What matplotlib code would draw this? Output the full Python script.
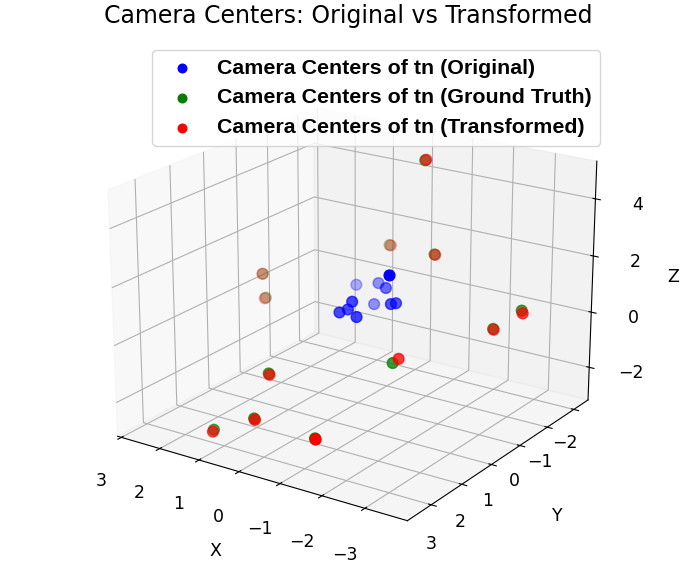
import numpy as np
import matplotlib
matplotlib.use("Agg")
from matplotlib import pyplot as plt


# camera centers (x, y, z)
orig_x = [-0.97, 0.31, -0.19, -0.50, -0.14, -0.07, 0.04, -0.31, -0.20, -0.78, -0.84]
orig_y = [0.25, -0.36, -0.44, -0.27, 0.37, 0.42, 0.55, 0.45, -0.28, -0.06, -0.15]
orig_z = [1.85, 0.77, 0.95, 0.97, 0.72, 0.45, 0.38, 0.28, 0.29, 0.61, 0.61]

gt_x = [-0.66, 0.86, -0.825, 3.06, 2.88, -2.78, -3.47, -1.68, 0.68, 0.40, 1.50, -1.61]
gt_y = [-1.36, -2.24, -1.49, -0.74, -0.61, -0.76, -0.72, 1.10, 2.00, 2.80, 2.72, 3.45]
gt_z = [4.96, 1.04, 1.62, 0.07, -0.69, 0.02, 0.92, -0.47, -1.15, -2.13, -3.01, -1.61]

tr_x = [-0.68, 0.84, -0.835, 3.08, 2.90, -2.80, -3.50, -1.75, 0.66, 0.38, 1.50, -1.63]
tr_y = [-1.37, -2.26, -1.50, -0.75, -0.60, -0.75, -0.71, 1.00, 2.00, 2.80, 2.75, 3.46]
tr_z = [4.98, 1.02, 1.60, 0.05, -0.72, 0.00, 0.84, -0.36, -1.19, -2.17, -3.06, -1.63]

y_ticks = [-2, -1, 0, 1, 2, 3]
y_tick_labels = ["\u22122", "\u22121", "0", "1", "2", "3"]


fig = plt.figure(figsize=(6.98, 5.81), dpi=100)
ax = fig.add_subplot(projection="3d")
ax.set_position([0.188, 0.097, 0.63, 0.757])

ax.scatter(orig_x, orig_y, orig_z, c="blue", s=60, label="Camera Centers of tn (Original)")
ax.scatter(gt_x, gt_y, gt_z, c="green", s=60, label="Camera Centers of tn (Ground Truth)")
ax.scatter(tr_x, tr_y, tr_z, c="red", s=60, label="Camera Centers of tn (Transformed)")

xlo, xhi = -3.97, 3.1
zlo, zhi = -3.2, 5.3
ax.set_xlim(xlo, xhi)
ax.set_ylim(-2.55, 3.75)
ax.set_zlim(zlo, zhi)
ax.set_box_aspect((4, 4, 3.0), zoom=1.22)
ax.view_init(elev=20.5, azim=124)

ax.tick_params(labelsize=12.5)
ax.tick_params(axis="x", pad=8)
ax.tick_params(axis="z", pad=7)

# y tick labels sit straight below the axis in the original
ax.set_yticks(y_ticks)
ax.tick_params(axis="y", labelleft=False, labelright=False)
for yv, lab in zip(y_ticks, y_tick_labels):
    ax.text(xlo + 0.07 + 0.04 * (1 - yv), yv, zlo - 1.32, lab, fontsize=12.5, ha="center", va="center")

ax.set_xlabel("X", fontsize=12.5, labelpad=11.5)
ax.set_ylabel("Y", fontsize=12.5, labelpad=9)
ax.set_zlabel("Z", fontsize=12.5, labelpad=8)
fig.suptitle("Camera Centers: Original vs Transformed", x=0.499, y=0.972, va="center", fontsize=17)

ax.legend(loc="upper center", bbox_to_anchor=(0.539, 0.932), bbox_transform=fig.transFigure,
          handletextpad=0.6, markerscale=0.8,
          prop={"family": "Liberation Sans", "weight": "bold", "size": 15.4})

fig.savefig("out.png", dpi=100)
